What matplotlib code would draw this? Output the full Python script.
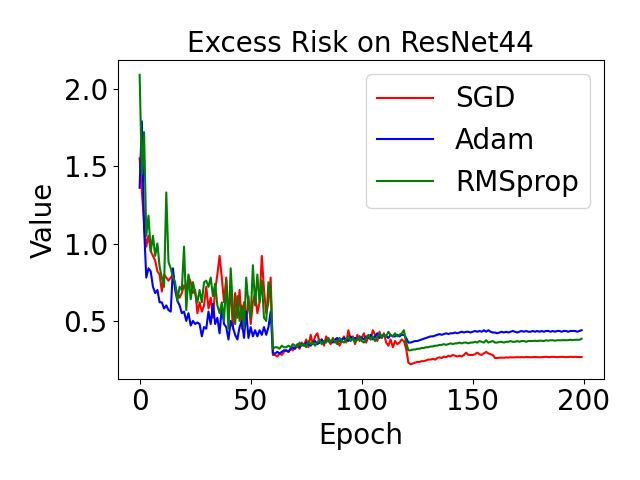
import numpy as np
import matplotlib
matplotlib.use('Agg')
import matplotlib.pyplot as plt

# values, one per epoch
sgd = [1.55, 1.34, 1.13, 0.98, 1.05, 0.95, 0.92, 0.89, 0.82, 0.80,
       0.69, 0.80, 0.78, 0.76, 0.78, 0.80, 0.72, 0.68, 0.65, 0.68,
       0.73, 0.70, 0.79, 0.75, 0.68, 0.70, 0.55, 0.62, 0.56, 0.60,
       0.72, 0.58, 0.65, 0.52, 0.70, 0.80, 0.92, 0.78, 0.62, 0.78,
       0.55, 0.70, 0.45, 0.68, 0.52, 0.70, 0.45, 0.62, 0.50, 0.66,
       0.48, 0.62, 0.68, 0.55, 0.62, 0.92, 0.70, 0.55, 0.62, 0.78,
       0.28, 0.28, 0.27, 0.29, 0.28, 0.30, 0.31, 0.30, 0.32, 0.31,
       0.33, 0.35, 0.32, 0.36, 0.34, 0.38, 0.33, 0.41, 0.35, 0.40,
       0.42, 0.36, 0.38, 0.34, 0.40, 0.37, 0.35, 0.39, 0.36, 0.38,
       0.34, 0.37, 0.40, 0.36, 0.44, 0.38, 0.40, 0.35, 0.41, 0.37,
       0.39, 0.42, 0.36, 0.40, 0.38, 0.44, 0.41, 0.37, 0.43, 0.39,
       0.42, 0.36, 0.34, 0.38, 0.33, 0.37, 0.35, 0.36, 0.38, 0.37,
       0.32, 0.23, 0.22, 0.225, 0.23, 0.235, 0.235, 0.24, 0.24, 0.245,
       0.25, 0.25, 0.255, 0.25, 0.26, 0.265, 0.26, 0.27, 0.265, 0.275,
       0.27, 0.28, 0.275, 0.27, 0.275, 0.27, 0.28, 0.295, 0.28, 0.28,
       0.28, 0.285, 0.295, 0.285, 0.28, 0.29, 0.30, 0.29, 0.285, 0.28,
       0.26, 0.26, 0.262, 0.263, 0.262, 0.264, 0.263, 0.265, 0.264, 0.265,
       0.266, 0.265, 0.266, 0.265, 0.267, 0.266, 0.265, 0.266, 0.267, 0.266,
       0.265, 0.266, 0.267, 0.268, 0.266, 0.267, 0.268, 0.267, 0.266, 0.267,
       0.268, 0.267, 0.266, 0.267, 0.268, 0.267, 0.268, 0.267, 0.266, 0.267]

adam = [1.36, 1.79, 1.10, 0.78, 0.84, 0.82, 0.72, 0.68, 0.70, 0.62,
        0.62, 0.58, 0.60, 0.57, 0.56, 0.84, 0.70, 0.63, 0.60, 0.55,
        0.56, 0.50, 0.55, 0.47, 0.50, 0.48, 0.49, 0.48, 0.40, 0.46,
        0.45, 0.56, 0.48, 0.61, 0.48, 0.52, 0.42, 0.59, 0.48, 0.46,
        0.38, 0.50, 0.46, 0.41, 0.38, 0.46, 0.50, 0.39, 0.56, 0.39,
        0.46, 0.40, 0.44, 0.40, 0.44, 0.41, 0.46, 0.41, 0.46, 0.56,
        0.29, 0.29, 0.30, 0.29, 0.30, 0.31, 0.31, 0.30, 0.32, 0.33,
        0.32, 0.34, 0.33, 0.35, 0.34, 0.36, 0.35, 0.34, 0.36, 0.37,
        0.35, 0.36, 0.38, 0.36, 0.37, 0.38, 0.37, 0.36, 0.38, 0.39,
        0.37, 0.38, 0.39, 0.38, 0.37, 0.40, 0.38, 0.39, 0.38, 0.40,
        0.39, 0.38, 0.40, 0.39, 0.41, 0.38, 0.40, 0.42, 0.39, 0.40,
        0.41, 0.40, 0.39, 0.41, 0.40, 0.40, 0.41, 0.40, 0.41, 0.41,
        0.39, 0.36, 0.36, 0.365, 0.37, 0.37, 0.375, 0.38, 0.385, 0.39,
        0.395, 0.40, 0.40, 0.405, 0.41, 0.415, 0.41, 0.415, 0.42, 0.415,
        0.42, 0.42, 0.425, 0.42, 0.425, 0.43, 0.425, 0.43, 0.43, 0.425,
        0.43, 0.435, 0.43, 0.435, 0.43, 0.44, 0.43, 0.44, 0.43, 0.425,
        0.425, 0.42, 0.425, 0.43, 0.425, 0.43, 0.425, 0.43, 0.435, 0.43,
        0.425, 0.43, 0.435, 0.43, 0.435, 0.43, 0.43, 0.435, 0.43, 0.435,
        0.43, 0.435, 0.43, 0.435, 0.435, 0.43, 0.435, 0.43, 0.435, 0.435,
        0.43, 0.435, 0.435, 0.43, 0.435, 0.435, 0.435, 0.43, 0.435, 0.44]

rmsprop = [2.09, 1.45, 1.72, 1.05, 1.18, 0.95, 1.05, 0.92, 1.00, 0.85,
           0.78, 0.72, 1.33, 0.88, 0.84, 0.78, 0.75, 0.63, 0.72, 0.70,
           0.98, 0.57, 0.80, 0.64, 0.75, 0.68, 0.62, 0.70, 0.62, 0.75,
           0.76, 0.72, 0.78, 0.66, 0.74, 0.60, 0.55, 0.62, 0.50, 0.76,
           0.45, 0.84, 0.58, 0.48, 0.66, 0.50, 0.60, 0.45, 0.78, 0.60,
           0.52, 0.86, 0.60, 0.80, 0.62, 0.76, 0.52, 0.50, 0.75, 0.70,
           0.32, 0.33, 0.33, 0.32, 0.34, 0.33, 0.33, 0.34, 0.33, 0.35,
           0.34, 0.33, 0.36, 0.34, 0.35, 0.33, 0.37, 0.35, 0.36, 0.34,
           0.36, 0.38, 0.35, 0.37, 0.36, 0.39, 0.36, 0.38, 0.37, 0.35,
           0.39, 0.37, 0.36, 0.38, 0.40, 0.37, 0.39, 0.36, 0.38, 0.40,
           0.37, 0.36, 0.39, 0.41, 0.38, 0.40, 0.37, 0.39, 0.42, 0.39,
           0.41, 0.40, 0.43, 0.41, 0.40, 0.42, 0.40, 0.41, 0.42, 0.44,
           0.36, 0.31, 0.31, 0.315, 0.315, 0.32, 0.32, 0.325, 0.325, 0.33,
           0.33, 0.335, 0.335, 0.34, 0.34, 0.345, 0.345, 0.35, 0.345, 0.35,
           0.355, 0.35, 0.355, 0.355, 0.36, 0.355, 0.36, 0.36, 0.355, 0.36,
           0.36, 0.365, 0.36, 0.37, 0.365, 0.36, 0.375, 0.36, 0.365, 0.37,
           0.36, 0.36, 0.365, 0.365, 0.36, 0.365, 0.365, 0.37, 0.365, 0.365,
           0.37, 0.365, 0.37, 0.37, 0.365, 0.37, 0.37, 0.37, 0.372, 0.37,
           0.372, 0.372, 0.37, 0.375, 0.372, 0.375, 0.375, 0.372, 0.375, 0.375,
           0.375, 0.376, 0.375, 0.376, 0.378, 0.376, 0.378, 0.378, 0.378, 0.385]

epochs = np.arange(len(sgd))

plt.rcParams['font.size'] = 20

fig = plt.figure(figsize=(6.4, 4.8), dpi=100)
plt.plot(epochs, sgd, color='red', label='SGD')
plt.plot(epochs, adam, color='blue', label='Adam')
plt.plot(epochs, rmsprop, color='green', label='RMSprop')
plt.title('Excess Risk on ResNet44', fontsize=20)
plt.xlabel('Epoch')
plt.ylabel('Value')
plt.xticks([0, 50, 100, 150, 200])
plt.yticks([0.5, 1.0, 1.5, 2.0])
plt.legend(loc='upper right')
plt.tight_layout()
plt.savefig('out.png', dpi=100)
